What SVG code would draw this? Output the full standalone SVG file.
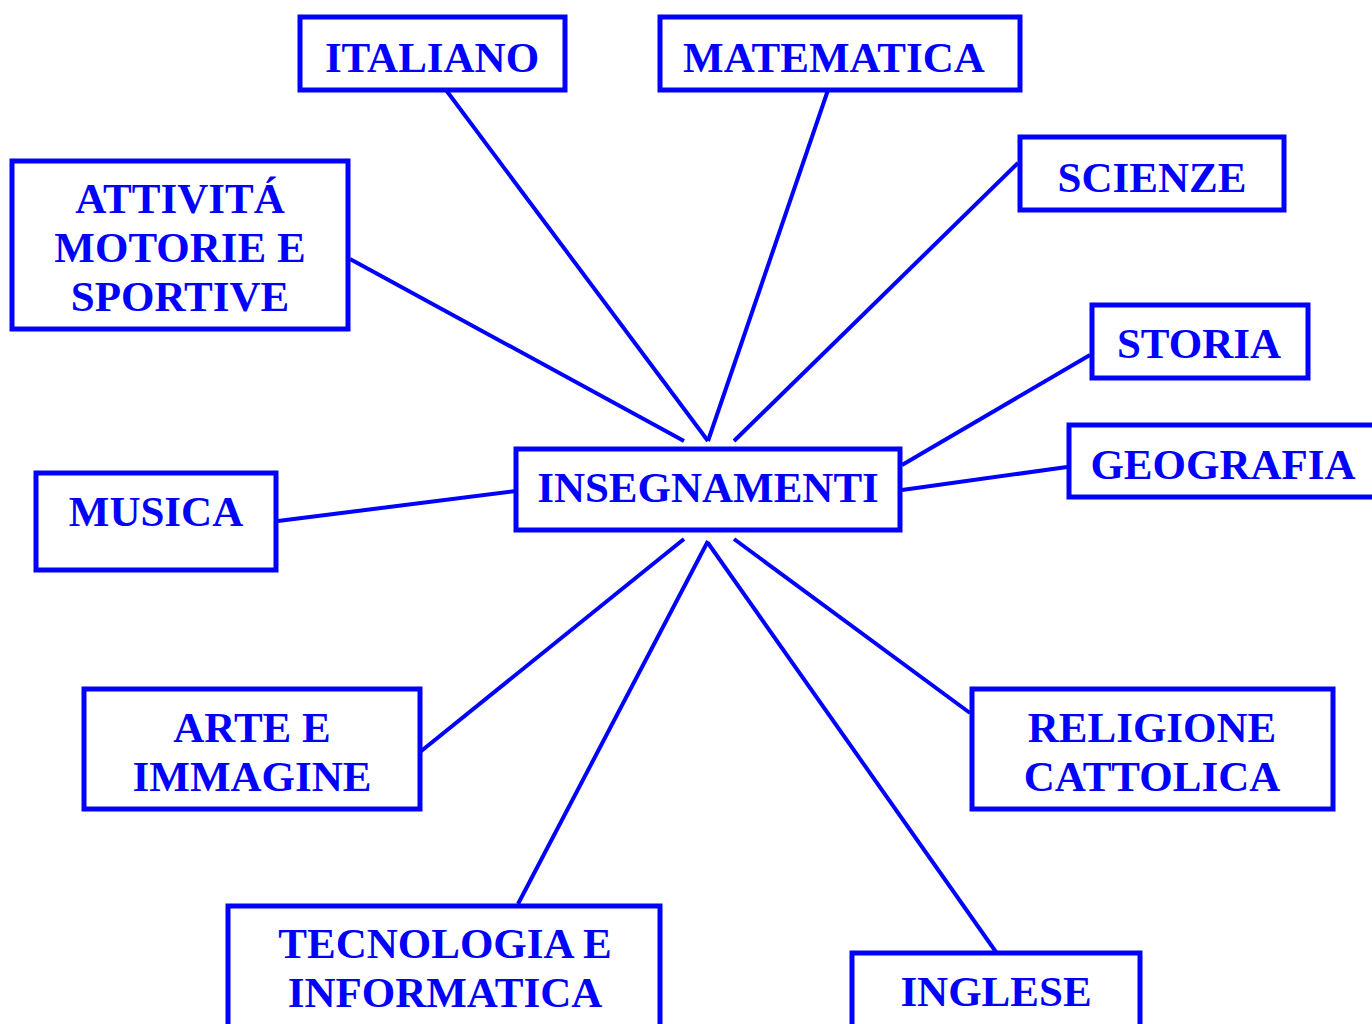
<svg xmlns="http://www.w3.org/2000/svg" width="1372" height="1024" viewBox="0 0 1372 1024">
<style>
.box{fill:#fff;stroke:#0000ff;stroke-width:5}
.t{font-family:"Liberation Serif","Times New Roman",serif;font-weight:bold;font-size:43px;fill:#0000ff;text-anchor:middle}
.c line{stroke:#0000ff;stroke-width:4}
</style>
<rect width="1372" height="1024" fill="#fff"/>
<g class="c" id="connectors">
<line x1="446" y1="90" x2="708" y2="441"/>
<line x1="828" y1="90" x2="708" y2="441"/>
<line x1="1018" y1="163" x2="734" y2="441"/>
<line x1="350" y1="259" x2="684" y2="441"/>
<line x1="1090" y1="355" x2="902" y2="465"/>
<line x1="1067" y1="467" x2="902" y2="490"/>
<line x1="278" y1="521" x2="516" y2="491"/>
<line x1="420" y1="752" x2="684" y2="539"/>
<line x1="518" y1="904" x2="708" y2="541"/>
<line x1="996" y1="952" x2="708" y2="543"/>
<line x1="970" y1="713" x2="734" y2="539"/>
</g>
<g id="italiano"><rect class="box" x="300" y="17" width="265" height="73"/><text class="t" x="432" y="72">ITALIANO</text></g>
<g id="matematica"><rect class="box" x="660" y="17" width="360" height="73"/><text class="t" x="834" y="72">MATEMATICA</text></g>
<g id="scienze"><rect class="box" x="1020" y="137" width="264" height="73"/><text class="t" x="1152" y="192">SCIENZE</text></g>
<g id="attivita"><rect class="box" x="12" y="161" width="336" height="168"/><text class="t" x="180" y="213">ATTIVITÁ</text><text class="t" x="180" y="262">MOTORIE E</text><text class="t" x="180" y="311">SPORTIVE</text></g>
<g id="storia"><rect class="box" x="1092" y="305" width="216" height="73"/><text class="t" x="1199" y="358">STORIA</text></g>
<g id="geografia"><rect class="box" x="1069" y="425" width="310" height="72"/><text class="t" x="1223" y="479">GEOGRAFIA</text></g>
<g id="insegnamenti"><rect class="box" x="516" y="449" width="384" height="81"/><text class="t" x="708" y="502">INSEGNAMENTI</text></g>
<g id="musica"><rect class="box" x="36" y="473" width="240" height="97"/><text class="t" x="156" y="526">MUSICA</text></g>
<g id="arte"><rect class="box" x="84" y="689" width="336" height="120"/><text class="t" x="252" y="742">ARTE E</text><text class="t" x="252" y="791">IMMAGINE</text></g>
<g id="religione"><rect class="box" x="972" y="689" width="361" height="120"/><text class="t" x="1152" y="742">RELIGIONE</text><text class="t" x="1152" y="791">CATTOLICA</text></g>
<g id="tecnologia"><rect class="box" x="228" y="906" width="432" height="130"/><text class="t" x="445" y="958">TECNOLOGIA E</text><text class="t" x="445" y="1007">INFORMATICA</text></g>
<g id="inglese"><rect class="box" x="852" y="953" width="288" height="90"/><text class="t" x="996" y="1006">INGLESE</text></g>
</svg>
